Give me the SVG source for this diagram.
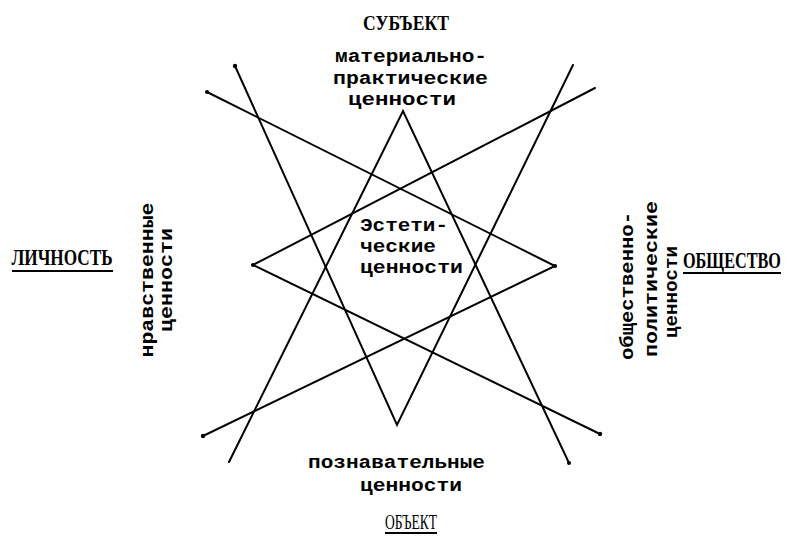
<svg xmlns="http://www.w3.org/2000/svg" width="789" height="537" viewBox="0 0 789 537">
<style>
.ln{stroke:#000;stroke-width:2;fill:none;stroke-linecap:round;stroke-linejoin:miter}
.dot{fill:#000}
.m{font-family:"Liberation Mono","DejaVu Sans Mono",monospace;font-weight:bold;font-size:19px;fill:#000}
.h{font-family:"Liberation Serif","DejaVu Serif",serif;font-weight:bold;font-size:20px;fill:#000}
.hs{font-family:"Liberation Serif","DejaVu Serif",serif;font-weight:bold;font-size:17px;fill:#000}
.u{stroke:#000;stroke-width:1.8}
</style>
<rect width="789" height="537" fill="#fff"/>
<g id="connectors">
<polyline class="ln" points="229,462 403,111 569,463"/>
<polyline class="ln" points="235,66 397,425 573,65"/>
<polyline class="ln" points="595,88 253,265 600,434"/>
<polyline class="ln" points="207,92 555,266 203,436"/>
<circle class="dot" cx="235" cy="66" r="2.2"/>
<circle class="dot" cx="207" cy="92" r="2"/>
<circle class="dot" cx="203" cy="436" r="2.2"/>
<circle class="dot" cx="600" cy="434" r="2.2"/>
<circle class="dot" cx="569" cy="463" r="2"/>
<circle class="dot" cx="555" cy="266" r="2"/>
<circle class="dot" cx="253" cy="265" r="2"/>
</g>
<g id="subject">
<text class="h" transform="translate(406,30) scale(1,1.1)" text-anchor="middle" textLength="86" lengthAdjust="spacingAndGlyphs">СУБЪЕКТ</text>
</g>
<g id="object">
<text class="h" x="411" y="529" text-anchor="middle" textLength="52" lengthAdjust="spacingAndGlyphs" style="font-weight:normal">ОБЪЕКТ</text>
<line class="u" x1="385" y1="533" x2="437" y2="533"/>
</g>
<g id="lichnost">
<text class="hs" transform="translate(62,265) scale(1,1.4)" text-anchor="middle" textLength="101" lengthAdjust="spacingAndGlyphs">ЛИЧНОСТЬ</text>
<line class="u" x1="12" y1="271" x2="113" y2="271"/>
</g>
<g id="obshchestvo">
<text class="hs" transform="translate(732,268) scale(1,1.4)" text-anchor="middle" textLength="98" lengthAdjust="spacingAndGlyphs">ОБЩЕСТВО</text>
<line class="u" x1="683" y1="273" x2="781" y2="273"/>
</g>
<g id="material">
<text class="m" x="335" y="62" textLength="152" lengthAdjust="spacingAndGlyphs">материально-</text>
<text class="m" x="333" y="84" textLength="155" lengthAdjust="spacingAndGlyphs">практические</text>
<text class="m" x="348" y="105" textLength="108" lengthAdjust="spacingAndGlyphs">ценности</text>
</g>
<g id="esthetic">
<text class="m" x="360" y="231" textLength="88" lengthAdjust="spacingAndGlyphs">Эстети-</text>
<text class="m" x="360" y="252" textLength="76" lengthAdjust="spacingAndGlyphs">ческие</text>
<text class="m" x="360" y="273" textLength="103" lengthAdjust="spacingAndGlyphs">ценности</text>
</g>
<g id="cognitive">
<text class="m" x="308" y="468" textLength="177" lengthAdjust="spacingAndGlyphs">познавательные</text>
<text class="m" x="360" y="491" textLength="102" lengthAdjust="spacingAndGlyphs">ценности</text>
</g>
<g id="moral">
<text class="m" transform="translate(153,280) rotate(-90)" text-anchor="middle" textLength="155" lengthAdjust="spacingAndGlyphs">нравственные</text>
<text class="m" transform="translate(172,280) rotate(-90)" text-anchor="middle" textLength="104" lengthAdjust="spacingAndGlyphs">ценности</text>
</g>
<g id="political">
<text class="m" transform="translate(633,286) rotate(-90)" text-anchor="middle" textLength="148" lengthAdjust="spacingAndGlyphs">общественно-</text>
<text class="m" transform="translate(657,279) rotate(-90)" text-anchor="middle" textLength="156" lengthAdjust="spacingAndGlyphs">политические</text>
<text class="m" transform="translate(677,292) rotate(-90)" text-anchor="middle" textLength="92" lengthAdjust="spacingAndGlyphs">ценности</text>
</g>
</svg>
